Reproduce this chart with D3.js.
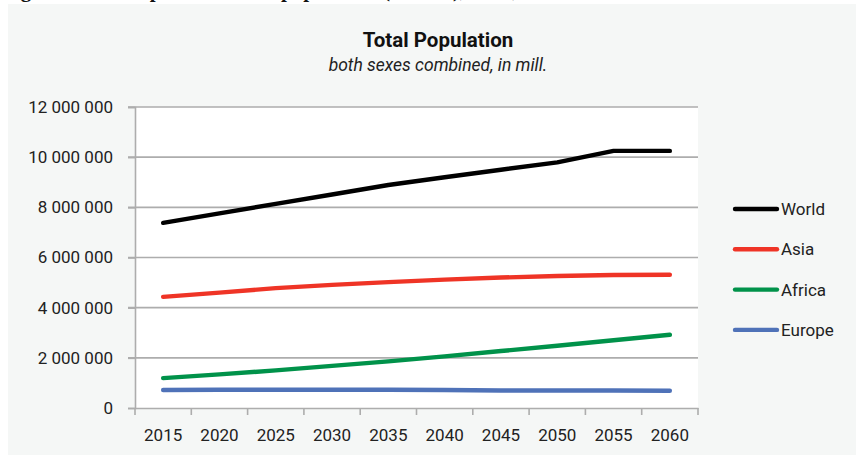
<!DOCTYPE html>
<html>
<head>
<meta charset="utf-8">
<script src="https://cdn.jsdelivr.net/npm/d3@7"></script>
<style>
  body { margin: 0; background: #fff; }
  svg { display: block; }
  text { font-family: Roboto, "DejaVu Sans", sans-serif; fill: #222; }
</style>
</head>
<body>
<script>
// Chart data
var years = ['2015', '2020', '2025', '2030', '2035', '2040', '2045', '2050', '2055', '2060']
var world  = [7380000, 7760000, 8140000, 8510000, 8890000, 9200000, 9500000, 9790000, 10250000, 10250000]
var asia   = [4430000, 4600000, 4780000, 4910000, 5020000, 5120000, 5200000, 5260000, 5300000, 5310000]
var africa = [1190000, 1340000, 1500000, 1680000, 1860000, 2060000, 2270000, 2480000, 2700000, 2920000]
var europe = [ 720000,  730000,  730000,  730000,  730000,  720000,  700000,  700000,  700000,  690000]
var seriesNames = ['World', 'Asia', 'Africa', 'Europe']
var seriesColors = ['#000000', '#ef3426', '#00924a', '#4f72b8']
var yTicks = [0, 2000000, 4000000, 6000000, 8000000, 10000000, 12000000]

var series = [world, asia, africa, europe]

// Variables
var W = 856
var H = 455
var plotLeft = 135, plotRight = 698, plotTop = 107, plotBottom = 408

var fmt = d3.formatLocale({decimal: '.', thousands: ' ', grouping: [3], currency: ['', '']}).format(',')

var svg = d3.select('body').append('svg')
  .attr('width', W)
  .attr('height', H)

// cut-off caption of the page above the chart (only descenders show)
svg.append('text')
  .attr('x', 2)
  .attr('y', -3.5)
  .style('font-family', '"Liberation Serif", serif')
  .style('font-weight', 'bold')
  .style('font-size', '21px')
  .style('fill', '#111')
  .text('Figure 1: Development of total population (in mill.), 2015, 2060')

// panel background
svg.append('rect')
  .attr('x', 8).attr('y', 4)
  .attr('width', W - 8).attr('height', H - 4)
  .attr('fill', '#f5f7f6')

// Scales
var xScale = d3.scaleBand()
  .domain(years)
  .range([plotLeft, plotRight])

var yScale = d3.scaleLinear()
  .domain([0, 12000000])
  .range([plotBottom, plotTop])

// plot area
svg.append('rect')
  .attr('x', plotLeft).attr('y', plotTop)
  .attr('width', plotRight - plotLeft).attr('height', plotBottom - plotTop)
  .attr('fill', '#fff')

// grid lines
svg.append('g')
  .selectAll('line')
  .data(yTicks.slice(1))
  .enter()
  .append('line')
  .attr('x1', plotLeft - 7)
  .attr('x2', plotRight)
  .attr('y1', function (d) { return yScale(d) })
  .attr('y2', function (d) { return yScale(d) })
  .attr('stroke', '#adadad')
  .attr('stroke-width', 1.6)

// y axis
var yAxis = svg.append('g')
  .attr('transform', 'translate(' + plotLeft + ',0)')
  .call(d3.axisLeft(yScale).tickValues(yTicks).tickFormat(fmt).tickSize(7).tickPadding(15))
yAxis.select('.domain').attr('stroke', '#adadad').attr('stroke-width', 1.6)
yAxis.selectAll('.tick line').attr('stroke', '#adadad').attr('stroke-width', 1.6)
yAxis.selectAll('text').style('font-size', '17px').style('fill', '#222')

// x axis
var xAxis = svg.append('g')
  .attr('transform', 'translate(0,' + plotBottom + ')')
  .call(d3.axisBottom(xScale).tickSize(0).tickPadding(21))
xAxis.select('.domain').attr('stroke', '#adadad').attr('stroke-width', 1.6)
xAxis.selectAll('text').style('font-size', '17px').style('fill', '#222')

// tick marks on the category borders
xAxis.selectAll('.border')
  .data(years.concat(['end']))
  .enter()
  .append('line')
  .attr('x1', function (d, i) { return i < years.length ? xScale(d) : xScale.range()[1] })
  .attr('x2', function (d, i) { return i < years.length ? xScale(d) : xScale.range()[1] })
  .attr('y1', 0)
  .attr('y2', 7)
  .attr('stroke', '#adadad')
  .attr('stroke-width', 1.6)

// lines
var line = d3.line()
  .x(function (d, i) { return xScale(years[i]) + xScale.bandwidth() / 2 })
  .y(function (d) { return yScale(d) })

svg.append('g')
  .selectAll('path')
  .data(series)
  .enter()
  .append('path')
  .attr('d', line)
  .attr('fill', 'none')
  .attr('stroke', function (d, i) { return seriesColors[i] })
  .attr('stroke-width', 4.4)
  .attr('stroke-linecap', 'round')
  .attr('stroke-linejoin', 'round')

// legend
var legend = svg.append('g')
  .selectAll('g')
  .data(seriesNames)
  .enter()
  .append('g')
  .attr('transform', function (d, i) { return 'translate(735,' + (209 + i * 40.3) + ')' })

legend.append('line')
  .attr('x1', 0).attr('x2', 42)
  .attr('stroke', function (d, i) { return seriesColors[i] })
  .attr('stroke-width', 4.4)
  .attr('stroke-linecap', 'round')

legend.append('text')
  .attr('x', 46)
  .attr('dy', '0.35em')
  .style('font-size', '17px')
  .text(function (d) { return d })

// titles
svg.append('text')
  .attr('x', 438)
  .attr('y', 47)
  .attr('text-anchor', 'middle')
  .style('font-weight', 'bold')
  .style('font-size', '20.5px')
  .style('fill', '#111')
  .text('Total Population')

svg.append('text')
  .attr('x', 438)
  .attr('y', 71)
  .attr('text-anchor', 'middle')
  .style('font-style', 'italic')
  .style('font-size', '17.5px')
  .text('both sexes combined, in mill.')
</script>
</body>
</html>
